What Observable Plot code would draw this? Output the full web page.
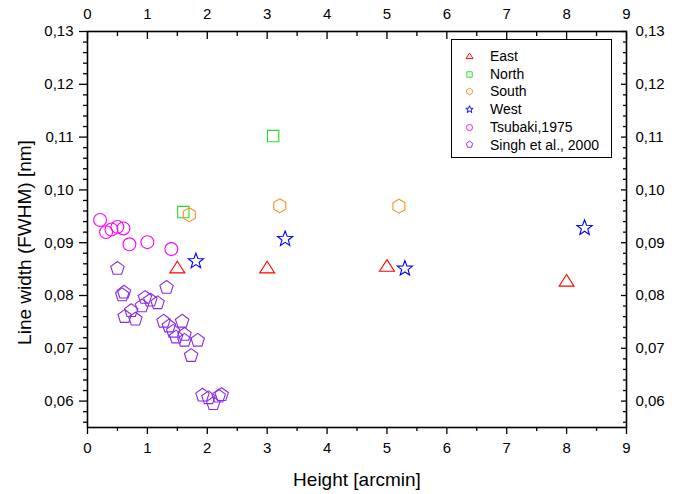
<!DOCTYPE html>
<html><head><meta charset="utf-8">
<script src="https://cdn.jsdelivr.net/npm/d3@7"></script>
<script src="https://cdn.jsdelivr.net/npm/@observablehq/plot@0.6"></script>
<style>
body{margin:0;background:#fff;font-family:"Liberation Sans",Arial,sans-serif;}
#wrap{position:relative;width:681px;height:494px;}
#legend{position:absolute;left:451px;top:39px;width:161px;height:119px;border:1px solid #000;background:#fff;box-sizing:border-box;padding:8px 0 0 10px;}
.lg-swatches{font-family:"Liberation Sans",Arial,sans-serif !important;font-size:14px !important;margin:0 !important;color:#000;}
.lg-swatch{line-height:16.7px !important;padding-bottom:1px !important;}
.lg-swatch > svg{margin-right:13px !important;}
</style>
</head><body>
<div id="wrap"><div id="chart"></div><div id="legend"></div></div>
<script>
const series = ["East","North","South","West","Tsubaki,1975","Singh et al., 2000"];
const colors = ["#ff0000","#22dd22","#ff8c1a","#0000ff","#ff00ff","#8a2be2"];

const eastX = [1.5, 3.0, 5.0, 8.0];
const eastY = [0.0851, 0.0851, 0.0854, 0.0826];
const northX = [1.6, 3.1];
const northY = [0.0958, 0.1102];
const southX = [1.7, 3.21, 5.2];
const southY = [0.0953, 0.0970, 0.0969];
const westX = [1.81, 3.3, 5.3, 8.3];
const westY = [0.0865, 0.0907, 0.0851, 0.0928];
const tsubakiX = [0.21, 0.31, 0.40, 0.50, 0.60, 0.70, 1.00, 1.40];
const tsubakiY = [0.0943, 0.0920, 0.0925, 0.0930, 0.0927, 0.0897, 0.0901, 0.0888];
const singhX = [0.50, 0.58, 0.61, 1.32, 0.62, 0.73, 0.80, 0.91, 0.96, 1.05, 1.17, 1.27, 1.36, 1.43, 1.48, 1.58, 1.62, 1.62, 1.84, 1.73, 1.92, 2.02, 2.10, 2.19, 2.24];
const singhY = [0.0851, 0.0801, 0.0806, 0.0815, 0.0760, 0.0771, 0.0755, 0.0780, 0.0796, 0.0791, 0.0786, 0.0751, 0.0742, 0.0732, 0.0721, 0.0751, 0.0726, 0.0715, 0.0715, 0.0686, 0.0611, 0.0606, 0.0595, 0.0609, 0.0612];

const xMajor = [0,1,2,3,4,5,6,7,8,9];
const xMinor = [0.5,1.5,2.5,3.5,4.5,5.5,6.5,7.5,8.5];
const yMajor = [0.06,0.07,0.08,0.09,0.10,0.11,0.12,0.13];
const yMinor = [0.056,0.058,0.062,0.064,0.066,0.068,0.072,0.074,0.076,0.078,0.082,0.084,0.086,0.088,0.092,0.094,0.096,0.098,0.102,0.104,0.106,0.108,0.112,0.114,0.116,0.118,0.122,0.124,0.126,0.128];
const xTitle = "Height [arcmin]";
const yTitle = "Line width (FWHM) [nm]";

const groups = [[eastX,eastY],[northX,northY],[southX,southY],[westX,westY],[tsubakiX,tsubakiY],[singhX,singhY]];
const data = groups.flatMap(([xs,ys],i) => xs.map((x,j) => ({x, y: ys[j], s: series[i]})));

function poly(n, R, start) {
  return {draw(ctx, size) {
    const r = Math.sqrt(size/Math.PI) * R;
    for (let k = 0; k < n; k++) {
      const a = (start + k*360/n) * Math.PI/180;
      const px = r*Math.cos(a), py = r*Math.sin(a);
      if (k === 0) ctx.moveTo(px, py); else ctx.lineTo(px, py);
    }
    ctx.closePath();
  }};
}
const triangle = {draw(ctx, size) {
  const r = Math.sqrt(size/Math.PI) * 1.37;
  ctx.moveTo(0, -r*0.85);
  ctx.lineTo(r*0.866, r*0.5);
  ctx.lineTo(-r*0.866, r*0.5);
  ctx.closePath();
}};
const square = {draw(ctx, size) {
  const h = Math.sqrt(size/Math.PI) * 0.9;
  ctx.rect(-h, -h, 2*h, 2*h);
}};
const circle = {draw(ctx, size) {
  const r = Math.sqrt(size/Math.PI) * 1.02;
  ctx.moveTo(r, 0);
  ctx.arc(0, 0, r, 0, 2*Math.PI);
}};
const star = {draw(ctx, size) {
  const R = Math.sqrt(size/Math.PI) * 1.27, ri = R*0.42;
  for (let k = 0; k < 10; k++) {
    const rr = k % 2 ? ri : R;
    const a = (-90 + k*36) * Math.PI/180;
    const px = rr*Math.cos(a), py = rr*Math.sin(a);
    if (k === 0) ctx.moveTo(px, py); else ctx.lineTo(px, py);
  }
  ctx.closePath();
}};
const hexagon = poly(6, 1.1, -90);
const pentagon = poly(5, 1.12, -90);
const symbols = [triangle, square, hexagon, star, circle, pentagon];

const fmt = d => d.toFixed(2).replace(".", ",");

const plot = Plot.plot({
  width: 681, height: 494,
  marginLeft: 87, marginRight: 55, marginTop: 31, marginBottom: 67,
  style: {fontFamily: "Liberation Sans, Arial, sans-serif", fontSize: "15px", background: "#fff", color: "#000"},
  x: {domain: [0, 9]},
  y: {domain: [0.055, 0.13]},
  symbol: {domain: series, range: symbols},
  color: {domain: series, range: colors},
  marks: [
    // bottom axis
    Plot.axisX({anchor: "bottom", ticks: xMajor, tickSize: 7, tickPadding: 8, tickFormat: d => d, strokeWidth: 1.3, fontSize: 15, label: null}),
    Plot.axisX({anchor: "bottom", ticks: xMinor, tickSize: 4, fill: "none", strokeWidth: 1.3, label: null}),
    // top axis
    Plot.axisX({anchor: "top", ticks: xMajor, tickSize: 0, tickPadding: 13, tickFormat: d => d, fontSize: 15, label: null}),
    Plot.axisX({anchor: "top", ticks: xMajor, tickSize: 7, dy: 7, fill: "none", strokeWidth: 1.3, label: null}),
    Plot.axisX({anchor: "top", ticks: xMinor, tickSize: 4, dy: 4, fill: "none", strokeWidth: 1.3, label: null}),
    // left axis
    Plot.axisY({anchor: "left", ticks: yMajor, tickSize: 8, tickPadding: 6, tickFormat: fmt, strokeWidth: 1.3, fontSize: 15, label: null}),
    Plot.axisY({anchor: "left", ticks: yMinor, tickSize: 4, fill: "none", strokeWidth: 1.3, label: null}),
    // right axis
    Plot.axisY({anchor: "right", ticks: yMajor, tickSize: 0, tickPadding: 9, tickFormat: fmt, fontSize: 15, label: null}),
    Plot.axisY({anchor: "right", ticks: yMajor, tickSize: 6, dx: -6, fill: "none", strokeWidth: 1.3, label: null}),
    Plot.axisY({anchor: "right", ticks: yMinor, tickSize: 4, dx: -4, fill: "none", strokeWidth: 1.3, label: null}),
    Plot.frame({stroke: "#000", strokeWidth: 1.6}),
    Plot.text([xTitle], {text: d => d, frameAnchor: "bottom", dy: 52, fontSize: 19, textAnchor: "middle", lineAnchor: "middle"}),
    Plot.text([yTitle], {text: d => d, frameAnchor: "left", dx: -63, dy: 13, rotate: -90, fontSize: 19, textAnchor: "middle", lineAnchor: "middle"}),
    Plot.dot(data, {x: "x", y: "y", symbol: "s", stroke: "s", fill: "none", r: 6.3, strokeWidth: 1.1})
  ]
});
document.getElementById("chart").appendChild(plot);
const lg = plot.legend("symbol", {columns: 1, r: 3.2, strokeWidth: 1, swatchSize: 15, className: "lg"});
document.getElementById("legend").appendChild(lg);
</script>
</body></html>
